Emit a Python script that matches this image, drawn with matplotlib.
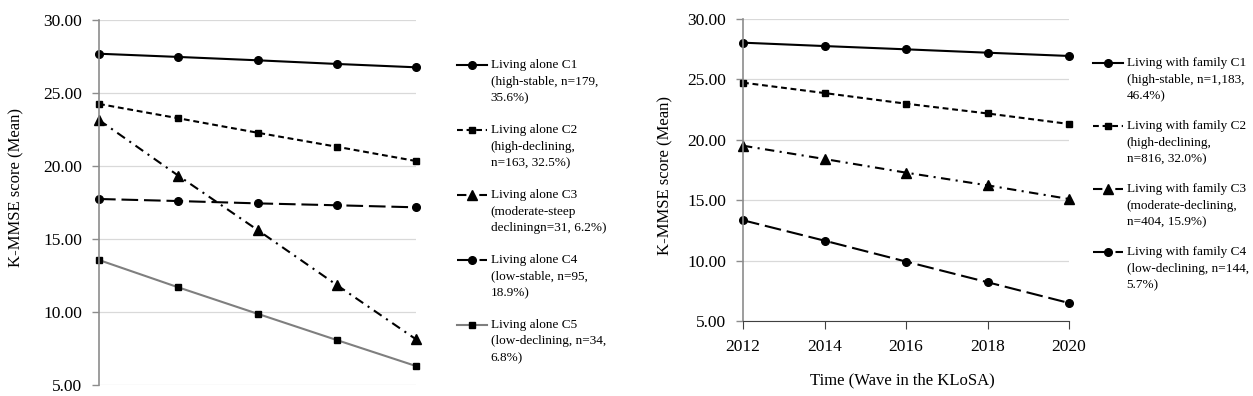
import numpy as np
import matplotlib
matplotlib.use('Agg')
import matplotlib.pyplot as plt
from matplotlib.legend_handler import HandlerLine2D
from matplotlib.lines import Line2D

plt.rcParams['font.family'] = ['Liberation Serif', 'DejaVu Serif']

# waves of the KLoSA
years = [2012, 2014, 2016, 2018, 2020]

# living alone trajectories (K-MMSE mean)
alone_c1 = [27.69, 27.47, 27.24, 26.99, 26.76]
alone_c2 = [24.25, 23.27, 22.28, 21.32, 20.34]
alone_c3 = [23.15, 19.34, 15.62, 11.85, 8.13]
alone_c4 = [17.74, 17.60, 17.44, 17.31, 17.17]
alone_c5 = [13.56, 11.69, 9.88, 8.08, 6.30]
alone_labels = ['Living alone C1\n(high-stable, n=179,\n35.6%)',
                'Living alone C2\n(high-declining,\nn=163, 32.5%)',
                'Living alone C3\n(moderate-steep\ndecliningn=31, 6.2%)',
                'Living alone C4\n(low-stable, n=95,\n18.9%)',
                'Living alone C5\n(low-declining, n=34,\n6.8%)']

# living with family trajectories
family_c1 = [28.04, 27.76, 27.49, 27.21, 26.94]
family_c2 = [24.73, 23.87, 22.99, 22.18, 21.31]
family_c3 = [19.51, 18.41, 17.28, 16.23, 15.10]
family_c4 = [13.34, 11.65, 9.92, 8.21, 6.49]
family_labels = ['Living with family C1\n(high-stable, n=1,183,\n46.4%)',
                 'Living with family C2\n(high-declining,\nn=816, 32.0%)',
                 'Living with family C3\n(moderate-declining,\nn=404, 15.9%)',
                 'Living with family C4\n(low-declining, n=144,\n5.7%)']

yticks = [5, 10, 15, 20, 25, 30]

LEG_FS = 9.5
LEG_LS = 1.51   # line spacing inside a legend label
LINE_PITCH = 12.0  # points between label lines


class FirstLineHandler(HandlerLine2D):
    # put the legend key next to the first line of a multi-line label
    def create_artists(self, legend, orig_handle, xdescent, ydescent, width, height, fontsize, trans):
        arts = super().create_artists(legend, orig_handle, xdescent, ydescent, width, height, fontsize, trans)
        for a in arts:
            if isinstance(a, Line2D):
                a.set_ydata(np.asarray(a.get_ydata()) + LINE_PITCH)
        return arts


def style_axis(ax):
    ax.set_ylim(5, 30)
    ax.set_xlim(years[0], years[-1])
    ax.set_yticks(yticks)
    ax.set_yticklabels([f'{v:.2f}' for v in yticks])
    ax.yaxis.grid(True, color='#d9d9d9', lw=0.9)
    ax.set_axisbelow(True)
    for s in ['top', 'right']:
        ax.spines[s].set_visible(False)
    ax.spines['left'].set_color('#8c8c8c')
    ax.spines['left'].set_linewidth(1.2)
    ax.tick_params(axis='y', direction='out', length=5, width=1, color='#8c8c8c', pad=7, labelsize=12.5)


W, H = 1253, 396
fig = plt.figure(figsize=(W/100, H/100), dpi=100)
ax1 = fig.add_axes([99/W, 11/H, (416-99)/W, (385-20)/H])
ax2 = fig.add_axes([743/W, 1-321/H, (1069-743)/W, (321-19)/H])

lw = 1.5
kw = dict(clip_on=False, lw=lw, markerfacecolor='k', markeredgecolor='k')
ax1.plot(years, alone_c1, color='k', marker='o', ms=5.5, ls='-', **kw)
ax1.plot(years, alone_c2, color='k', marker='s', ms=4.5, dashes=(2.8, 1.8), **kw)
ax1.plot(years, alone_c3, color='k', marker='^', ms=6.5, dashes=(4.5, 2.6, 1, 2.6), **kw)
ax1.plot(years, alone_c4, color='k', marker='o', ms=5.5, dashes=(8, 2.8), **kw)
ax1.plot(years, alone_c5, color='#7f7f7f', marker='s', ms=4.2, ls='-', **kw)

style_axis(ax1)
ax1.spines['bottom'].set_visible(False)
ax1.tick_params(axis='x', bottom=False, labelbottom=False)
ax1.set_ylabel('K-MMSE score (Mean)', fontsize=12)
ax1.yaxis.set_label_coords(-0.235, 0.54)

ax2.plot(years, family_c1, color='k', marker='o', ms=5.5, ls='-', **kw)
ax2.plot(years, family_c2, color='k', marker='s', ms=4.5, dashes=(2.8, 1.8), **kw)
ax2.plot(years, family_c3, color='k', marker='^', ms=6.5, dashes=(4.5, 2.6, 1, 2.6), **kw)
ax2.plot(years, family_c4, color='k', marker='o', ms=5.5, dashes=(8, 2.8), **kw)

style_axis(ax2)
ax2.set_xticks(years)
ax2.spines['bottom'].set_color('#404040')
ax2.tick_params(axis='x', direction='out', length=6, color='#404040', pad=7, labelsize=12.5)
ax2.set_ylabel('K-MMSE score (Mean)', fontsize=12)
ax2.yaxis.set_label_coords(-0.212, 0.483)
ax2.set_xlabel('Time (Wave in the KLoSA)', fontsize=12)
ax2.xaxis.set_label_coords(0.49, -0.169)

leg_kw = dict(loc='upper left', frameon=False, fontsize=LEG_FS, handlelength=2.3, handletextpad=0.25,
              borderpad=0, borderaxespad=0, handler_map={Line2D: FirstLineHandler()})
leg1 = fig.legend(ax1.get_lines(), alone_labels, bbox_to_anchor=(457/W, 1-59/H),
                  labelspacing=1.5, **leg_kw)
leg2 = fig.legend(ax2.get_lines(), family_labels, bbox_to_anchor=(1093/W, 1-57/H),
                  labelspacing=1.35, **leg_kw)
for leg in [leg1, leg2]:
    for t in leg.get_texts():
        t.set_linespacing(LEG_LS)

fig.savefig('out.png', dpi=100)
